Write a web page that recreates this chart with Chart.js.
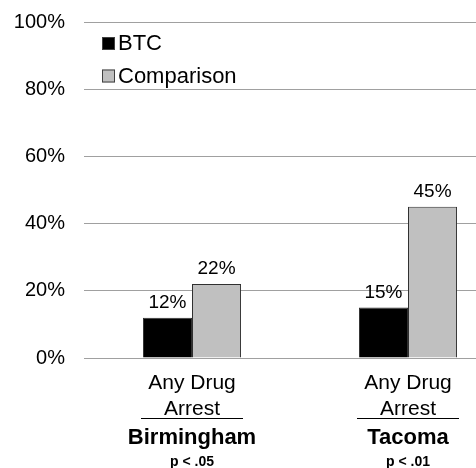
<!DOCTYPE html>
<html>
<head>
<meta charset="utf-8">
<script src="https://cdn.jsdelivr.net/npm/chart.js@4"></script>
<style>
html,body{margin:0;padding:0;overflow:hidden;background:#fff;}
#wrap{position:relative;width:520px;height:468px;}
</style>
</head>
<body>
<div id="wrap"><canvas id="c"></canvas></div>
<script>
const categories = [["Any Drug", "Arrest"], ["Any Drug", "Arrest"]];
const sites = ["Birmingham", "Tacoma"];
const pValues = ["p < .05", "p < .01"];
const seriesNames = ["BTC", "Comparison"];
const btcValues = [12, 15];
const comparisonValues = [22, 45];
const yTickValues = [0, 20, 40, 60, 80, 100];

const FONT = "'Liberation Sans', Arial, sans-serif";

const labelPlugin = {
  id: 'extras',
  afterDatasetsDraw(chart) {
    const ctx = chart.ctx;
    ctx.save();
    ctx.fillStyle = '#000';
    ctx.font = '19px ' + FONT;
    ctx.textAlign = 'center';
    ctx.textBaseline = 'middle';
    chart.data.datasets.forEach((ds, di) => {
      const meta = chart.getDatasetMeta(di);
      meta.data.forEach((bar, i) => {
        ctx.fillText(ds.data[i] + '%', bar.x, bar.y - 15);
      });
    });
    // legend
    const lx = 102;
    const rows = [43.5, 76];
    chart.data.datasets.forEach((ds, di) => {
      ctx.fillStyle = ds.backgroundColor;
      ctx.strokeStyle = '#404040';
      ctx.lineWidth = 1;
      ctx.fillRect(lx, rows[di] - 6.5, 13, 13);
      ctx.strokeRect(lx + 0.5, rows[di] - 6, 12, 12);
      ctx.fillStyle = '#000';
      ctx.textAlign = 'left';
      ctx.font = '22px ' + FONT;
      ctx.fillText(ds.label, 118, rows[di] + 0.5);
    });
    // site labels
    const xs = chart.scales.x;
    sites.forEach((s, i) => {
      const x = xs.getPixelForValue(i);
      ctx.strokeStyle = '#000';
      ctx.lineWidth = 1;
      ctx.beginPath();
      ctx.moveTo(x - 51, 418.5);
      ctx.lineTo(x + 51, 418.5);
      ctx.stroke();
      ctx.fillStyle = '#000';
      ctx.textAlign = 'center';
      ctx.font = 'bold 22px ' + FONT;
      ctx.fillText(s, x, 438);
      ctx.font = 'bold 14px ' + FONT;
      ctx.fillText(pValues[i], x, 462);
    });
    ctx.restore();
  }
};

new Chart(document.getElementById('c'), {
  type: 'bar',
  data: {
    labels: categories,
    datasets: [
      { label: seriesNames[0], data: btcValues, backgroundColor: '#000000', borderColor: '#303030', borderWidth: 1 },
      { label: seriesNames[1], data: comparisonValues, backgroundColor: '#c0c0c0', borderColor: '#303030', borderWidth: 1 }
    ]
  },
  options: {
    responsive: true,
    maintainAspectRatio: false,
    animation: false,
    layout: { padding: { top: 22, right: 4, left: 0, bottom: 0 } },
    datasets: { bar: { barPercentage: 1.0, categoryPercentage: 0.454 } },
    plugins: { legend: { display: false }, tooltip: { enabled: false } },
    scales: {
      x: {
        grid: { display: false, drawTicks: false },
        border: { display: false },
        ticks: { color: '#000', font: { family: FONT, size: 21, lineHeight: 1.24 }, padding: 12, maxRotation: 0 },
        afterFit(scale) { scale.height = 110; scale.paddingLeft = 0; scale.paddingRight = 0; }
      },
      y: {
        min: 0, max: 100,
        afterBuildTicks(scale) { scale.ticks = yTickValues.map(v => ({ value: v })); },
        grid: { color: '#a0a0a0', drawTicks: false, lineWidth: 1 },
        border: { display: false },
        ticks: { color: '#000', font: { family: FONT, size: 20 }, padding: 19, callback: v => v + '%' },
        afterFit(scale) { scale.width = 84; scale.paddingTop = 0; scale.paddingBottom = 0; }
      }
    }
  },
  plugins: [labelPlugin]
});
</script>
</body>
</html>
